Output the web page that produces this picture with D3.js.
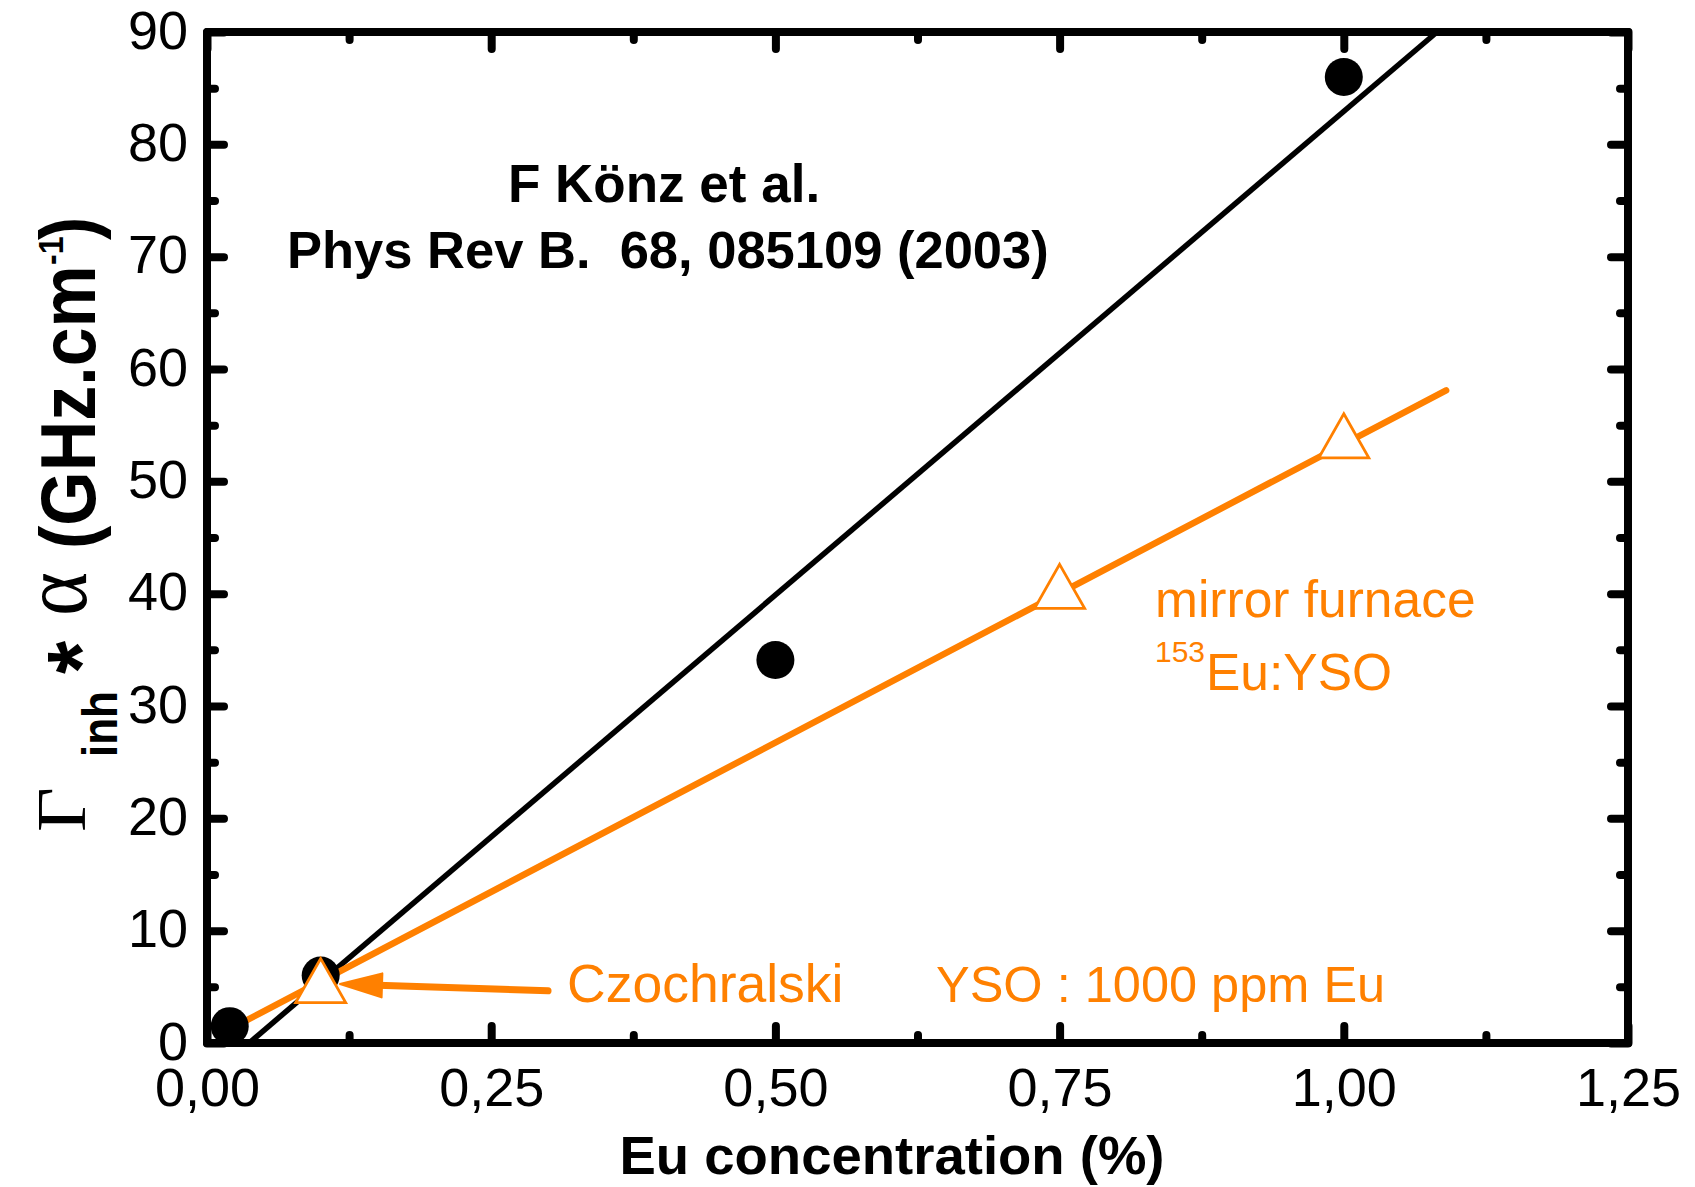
<!DOCTYPE html>
<html>
<head>
<meta charset="utf-8">
<script src="https://cdn.jsdelivr.net/npm/d3@7"></script>
<style>
  html, body { margin: 0; padding: 0; background: #fff; }
  svg { display: block; }
  text { font-family: "Liberation Sans", Arial, sans-serif; }
</style>
</head>
<body>
<svg id="chart" width="1695" height="1187"></svg>
<script>
// Könz et al., Phys Rev B 68, 085109 (2003): black circles
const concKonz  = [0.02, 0.10, 0.50, 1.00];
const gammaKonz = [1.5, 6.0, 34.1, 86.0];

// mirror furnace 153Eu:YSO (and the Czochralski sample at 0.1 %): orange triangles
const concMirror  = [0.10, 0.75, 1.00];
const gammaMirror = [4.9, 40.0, 53.4];

// linear fits, given by their end points
const fitKonzX   = [0.037, 1.082];
const fitKonzY   = [0, 90];
const fitMirrorX = [0.01, 1.09];
const fitMirrorY = [0.7, 58.1];

// axis ticks
const xMajor = [0, 0.25, 0.5, 0.75, 1.0, 1.25];
const xMinor = [0.125, 0.375, 0.625, 0.875, 1.125];
const yMajor = [0, 10, 20, 30, 40, 50, 60, 70, 80, 90];
const yMinor = [5, 15, 25, 35, 45, 55, 65, 75, 85];

// arrow pointing at the Czochralski sample (data coordinates)
const arrowFrom = [0.30, 4.65];
const arrowTo   = [0.117, 5.25];

const ORANGE = "#ff8000";

const svg = d3.select("#chart");
const L = 207, R = 1628, T = 32, B = 1043;

const x = d3.scaleLinear().domain([0, 1.25]).range([L, R]);
const y = d3.scaleLinear().domain([0, 90]).range([B, T]);

const plot = svg.append("g");

// fit lines
const line = d3.line().x(d => x(d[0])).y(d => y(d[1]));
plot.append("path")
  .attr("d", line(d3.zip(fitKonzX, fitKonzY)))
  .attr("fill", "none").attr("stroke", "#000").attr("stroke-width", 5.5);
plot.append("path")
  .attr("d", line(d3.zip(fitMirrorX, fitMirrorY)))
  .attr("fill", "none").attr("stroke", ORANGE).attr("stroke-width", 6.5)
  .attr("stroke-linecap", "round");

// arrow to the Czochralski crystal
{
  const x0 = x(arrowFrom[0]), y0 = y(arrowFrom[1]);
  const x1 = x(arrowTo[0]),   y1 = y(arrowTo[1]);
  const len = Math.hypot(x1 - x0, y1 - y0);
  const ux = (x1 - x0) / len, uy = (y1 - y0) / len;
  const headL = 42, headW = 12;
  const bx = x1 - ux * headL, by = y1 - uy * headL;
  plot.append("line")
    .attr("x1", x0).attr("y1", y0).attr("x2", bx + ux * 4).attr("y2", by + uy * 4)
    .attr("stroke", ORANGE).attr("stroke-width", 7).attr("stroke-linecap", "round");
  plot.append("path")
    .attr("d", `M${x1},${y1}L${bx - uy * headW},${by + ux * headW}L${bx + uy * headW},${by - ux * headW}Z`)
    .attr("fill", ORANGE).attr("stroke", ORANGE).attr("stroke-width", 2).attr("stroke-linejoin", "round");
}

// black circles
plot.selectAll("circle.konz")
  .data(d3.zip(concKonz, gammaKonz))
  .join("circle").attr("class", "konz")
  .attr("cx", d => x(d[0])).attr("cy", d => y(d[1])).attr("r", 19)
  .attr("fill", "#000");

// open orange triangles (centroid on the data point)
const triW = 50, triH = 44;
const triPath = `M0,${-triH * 2 / 3}L${triW / 2},${triH / 3}L${-triW / 2},${triH / 3}Z`;
plot.selectAll("path.mirror")
  .data(d3.zip(concMirror, gammaMirror))
  .join("path").attr("class", "mirror")
  .attr("d", triPath)
  .attr("transform", d => `translate(${x(d[0])},${y(d[1])})`)
  .attr("fill", "#fff").attr("stroke", ORANGE).attr("stroke-width", 2.8)
  .attr("stroke-linejoin", "miter");

// ---- axes: frame with inward ticks on all four sides ----
const axisStyle = (g) => {
  g.select(".domain").remove();
  g.selectAll(".tick line")
    .attr("stroke", "#000").attr("stroke-width", 8).attr("stroke-linecap", "round");
};
const MAJ = 17, MIN = 8;
const fmtX = d => d3.format(".2f")(d).replace(".", ",");
const fmtY = d3.format("d");

function placeLabels(g, dx, dy, anchor) {
  g.selectAll(".tick text")
    .attr("x", dx).attr("y", dy).attr("dy", null)
    .attr("text-anchor", anchor)
    .attr("font-size", 54).attr("fill", "#000")
    .style("font-family", '"Liberation Sans", Arial, sans-serif');
}

// bottom
svg.append("g").attr("transform", `translate(0,${B})`)
  .call(d3.axisBottom(x).tickValues(xMajor).tickSize(-MAJ).tickFormat(fmtX))
  .call(axisStyle).call(g => placeLabels(g, 0, 63, "middle"));
svg.append("g").attr("transform", `translate(0,${B})`)
  .call(d3.axisBottom(x).tickValues(xMinor).tickSize(-MIN).tickFormat(""))
  .call(axisStyle);
// top
svg.append("g").attr("transform", `translate(0,${T})`)
  .call(d3.axisTop(x).tickValues(xMajor).tickSize(-MAJ).tickFormat(""))
  .call(axisStyle);
svg.append("g").attr("transform", `translate(0,${T})`)
  .call(d3.axisTop(x).tickValues(xMinor).tickSize(-MIN).tickFormat(""))
  .call(axisStyle);
// left
svg.append("g").attr("transform", `translate(${L},0)`)
  .call(d3.axisLeft(y).tickValues(yMajor).tickSize(-MAJ).tickFormat(fmtY))
  .call(axisStyle).call(g => placeLabels(g, -19, 16, "end"));
svg.append("g").attr("transform", `translate(${L},0)`)
  .call(d3.axisLeft(y).tickValues(yMinor).tickSize(-MIN).tickFormat(""))
  .call(axisStyle);
// right
svg.append("g").attr("transform", `translate(${R},0)`)
  .call(d3.axisRight(y).tickValues(yMajor).tickSize(-MAJ).tickFormat(""))
  .call(axisStyle);
svg.append("g").attr("transform", `translate(${R},0)`)
  .call(d3.axisRight(y).tickValues(yMinor).tickSize(-MIN).tickFormat(""))
  .call(axisStyle);

// frame
svg.append("rect")
  .attr("x", L).attr("y", T).attr("width", R - L).attr("height", B - T)
  .attr("fill", "none").attr("stroke", "#000").attr("stroke-width", 8)
  .attr("stroke-linejoin", "round");

// ---- lettering ----
function label(str, px, py, size, opts = {}) {
  return svg.append("text")
    .attr("x", px).attr("y", py)
    .attr("text-anchor", opts.anchor || "start")
    .attr("font-size", size)
    .attr("font-weight", opts.weight || "normal")
    .attr("fill", opts.color || "#000")
    .style("white-space", "pre")
    .text(str);
}

label("F Könz et al.", 508, 202, 53, { weight: "bold" });
label("Phys Rev B.  68, 085109 (2003)", 287, 268, 52.5, { weight: "bold" });

label("mirror furnace", 1155, 617, 51.5, { color: ORANGE });
label("153", 1155, 662, 30, { color: ORANGE });
label("Eu:YSO", 1206, 690, 51.5, { color: ORANGE });
label("Czochralski", 567, 1002, 53.5, { color: ORANGE });
label("YSO : 1000 ppm Eu", 936, 1002, 50.5, { color: ORANGE });

// x title
label("Eu concentration (%)", 892, 1174, 54.5, { weight: "bold", anchor: "middle" });

// y title: rotated, pieces laid out along the axis (u = distance upward, v = offset right of baseline)
{
  const yt = svg.append("g")
    .attr("transform", "translate(95,832) scale(1.12,1) rotate(-90)");
  const serif = '"Liberation Serif", "Times New Roman", serif';
  const piece = (str, u, v, size, opts = {}) => yt.append("text")
    .attr("transform", `translate(${u},${v}) scale(${opts.ku || 1},1)`)
    .attr("font-size", size)
    .attr("font-weight", opts.weight || "bold")
    .style("font-family", opts.family || null)
    .attr("fill", "#000")
    .text(str);
  piece("Γ", 0, -9, 62, { family: serif, weight: "normal", ku: 1.25 });
  piece("inh", 75, 20, 44);
  piece("*", 158, 16, 85);
  piece("α", 216, -8, 84, { family: serif, weight: "normal" });
  piece("(GHz.cm", 283, 0, 70);
  piece("-1", 567, -29, 32);
  piece(")", 592, 0, 70);
}
</script>
</body>
</html>
